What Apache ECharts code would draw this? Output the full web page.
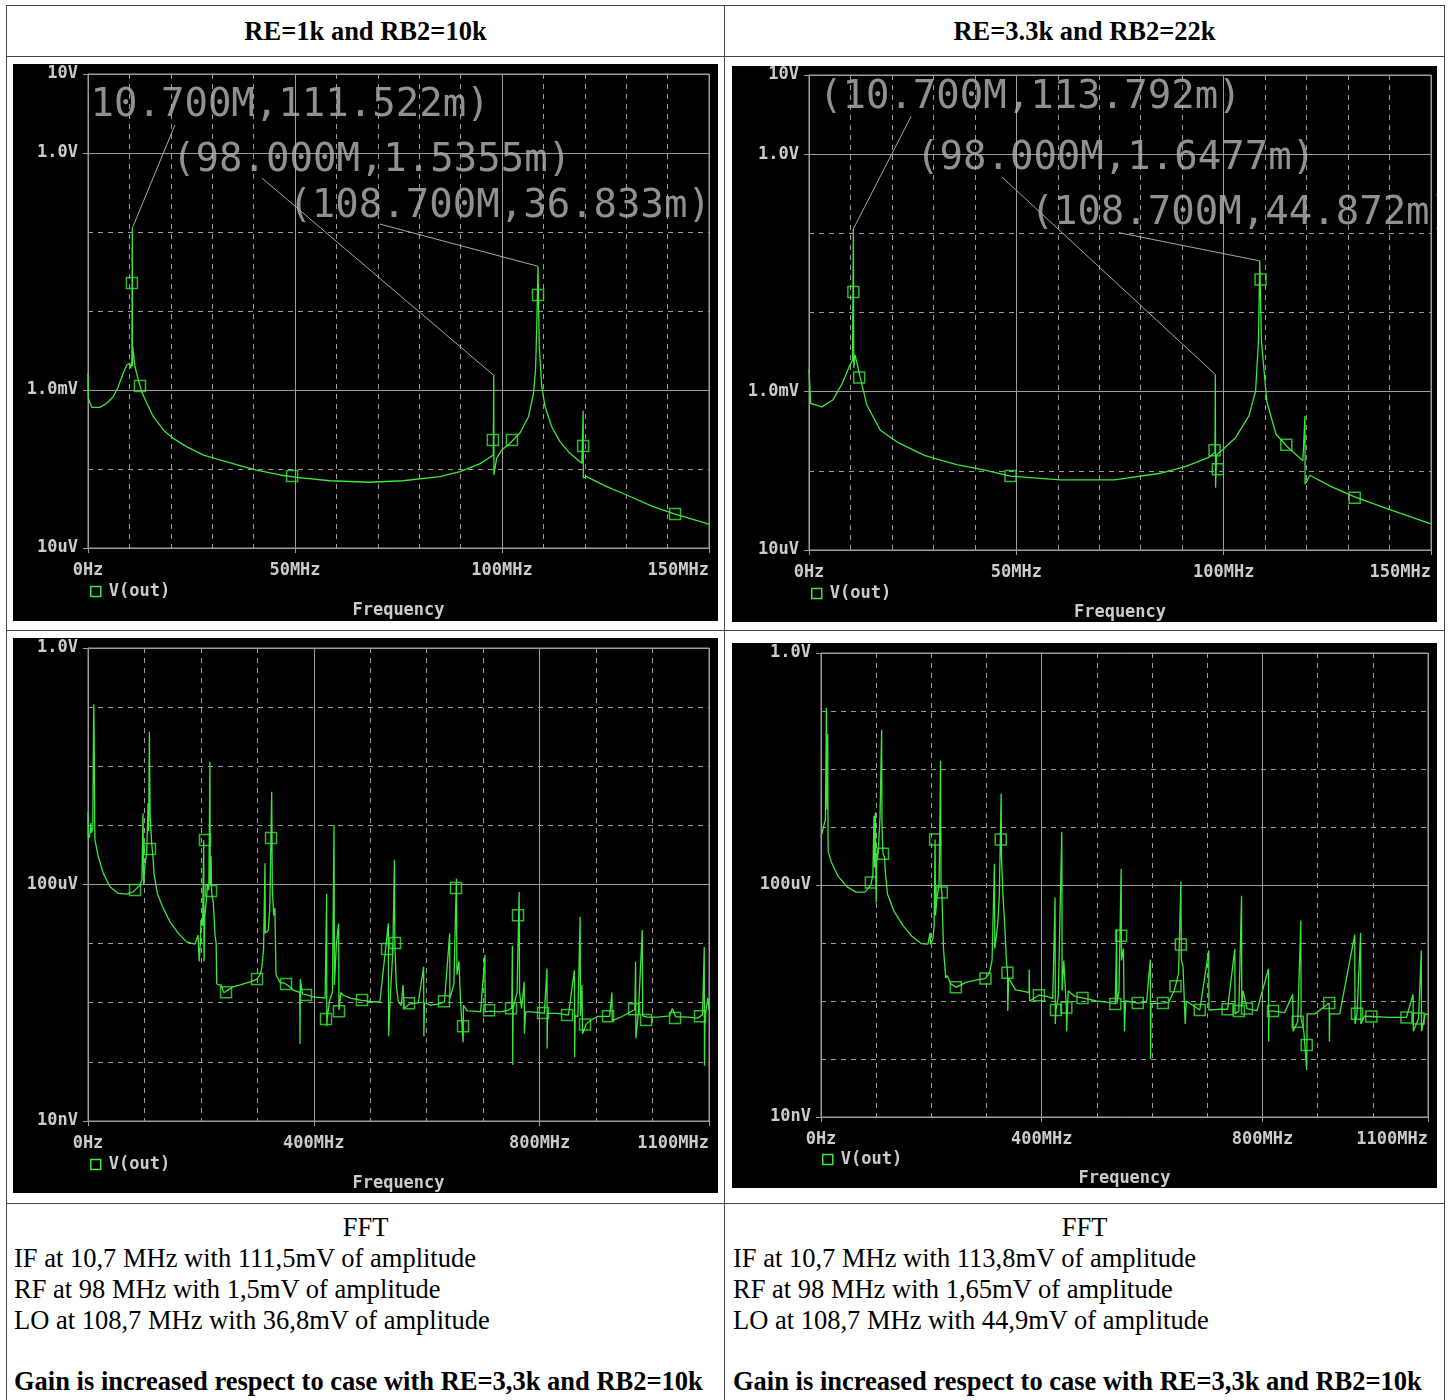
<!DOCTYPE html>
<html>
<head>
<meta charset="utf-8">
<script src="https://cdn.jsdelivr.net/npm/echarts@6/dist/echarts.min.js"></script>
<style>
  body { margin: 0; background: #fff; }
  #page { position: relative; width: 1451px; height: 1400px; overflow: hidden; font-family: 'Liberation Serif', serif; color: #000; }
  .hl { position: absolute; height: 1px; background: #444; }
  .vl { position: absolute; width: 1px; background: #444; }
  .head { position: absolute; top: 5px; height: 52px; line-height: 52px; text-align: center; font-weight: bold; font-size: 26.5px; }
  .plot { position: absolute; background: #000; }
  .ln { position: absolute; font-size: 26.5px; line-height: 31px; white-space: nowrap; }
  .ctr { text-align: center; }
</style>
</head>
<body>
<div id="page">
  <div class="hl" style="left:6px;width:1439px;top:5px"></div>
  <div class="hl" style="left:6px;width:1439px;top:56px"></div>
  <div class="hl" style="left:6px;width:1439px;top:630px"></div>
  <div class="hl" style="left:6px;width:1439px;top:1203px"></div>
  <div class="vl" style="left:6px;top:5px;height:1395px"></div>
  <div class="vl" style="left:724px;top:5px;height:1395px"></div>
  <div class="vl" style="left:1444px;top:5px;height:1395px"></div>

  <div class="head" style="left:6px;width:719px">RE=1k and RB2=10k</div>
  <div class="head" style="left:725px;width:719px">RE=3.3k and RB2=22k</div>

  <div id="tl" class="plot" style="left:13px;top:64px;width:705px;height:557px"></div>
  <div id="tr" class="plot" style="left:732px;top:66px;width:705px;height:556px"></div>
  <div id="bl" class="plot" style="left:13px;top:638px;width:705px;height:555px"></div>
  <div id="br" class="plot" style="left:732px;top:643px;width:705px;height:545px"></div>

  <div class="ln ctr" style="left:6px;width:719px;top:1212px">FFT</div>
  <div class="ln" style="left:14px;top:1243px">IF at 10,7 MHz with 111,5mV of amplitude</div>
  <div class="ln" style="left:14px;top:1274px">RF at 98 MHz with 1,5mV of amplitude</div>
  <div class="ln" style="left:14px;top:1305px">LO at 108,7 MHz with 36,8mV of amplitude</div>
  <div class="ln" style="left:14px;top:1366px;font-weight:bold">Gain is increased respect to case with RE=3,3k and RB2=10k</div>

  <div class="ln ctr" style="left:725px;width:719px;top:1212px">FFT</div>
  <div class="ln" style="left:733px;top:1243px">IF at 10,7 MHz with 113,8mV of amplitude</div>
  <div class="ln" style="left:733px;top:1274px">RF at 98 MHz with 1,65mV of amplitude</div>
  <div class="ln" style="left:733px;top:1305px">LO at 108,7 MHz with 44,9mV of amplitude</div>
  <div class="ln" style="left:733px;top:1366px;font-weight:bold">Gain is increased respect to case with RE=3,3k and RB2=10k</div>
</div>

<script>
// axis ticks and labels
const acXTicks = [0, 50, 100, 150]
const acXLabels = ['0Hz', '50MHz', '100MHz', '150MHz']
const acYTicks = [10, 1, 1e-3, 1e-5]
const acYLabels = ['10V', '1.0V', '1.0mV', '10uV']
const fftXTicks = [0, 400, 800, 1100]
const fftXLabels = ['0Hz', '400MHz', '800MHz', '1100MHz']
const fftYTicks = [1, 1e-4, 1e-8]
const fftYLabels = ['1.0V', '100uV', '10nV']

// [MHz, V] - RE=1k, RB2=10k, frequency sweep
const tlTrace = [
  [0, 1.63e-3], [0.07, 0.785e-3], [0.9, 0.604e-3], [2.9, 0.604e-3], [4.5, 0.678e-3], [6.1, 0.822e-3],
  [7.3, 1.10e-3], [8.5, 1.63e-3], [9.35, 2.07e-3], [10.0, 2.18e-3], [10.3, 1.88e-3], [10.6, 2.3e-3],
  [10.7, 0.111522], [10.75, 2.0e-3], [10.8, 3.53e-3], [11.35, 1.97e-3], [12.15, 1.34e-3], [12.97, 0.953e-3],
  [14.2, 0.678e-3], [15.8, 0.459e-3], [18.2, 0.312e-3], [20.6, 0.244e-3], [23.8, 0.192e-3], [27.9, 0.150e-3],
  [31.9, 0.130e-3], [36.7, 0.110e-3], [40.7, 0.097e-3], [46.4, 0.084e-3], [50.4, 0.0785e-3], [58.5, 0.071e-3],
  [68, 0.068e-3], [76, 0.071e-3], [85, 0.080e-3], [89.9, 0.0925e-3], [94.7, 0.117e-3], [97.1, 0.141e-3],
  [97.9, 0.15e-3], [98.0, 1.5355e-3], [98.05, 0.084e-3], [98.7, 0.136e-3], [99.9, 0.174e-3], [101.5, 0.201e-3],
  [104.3, 0.283e-3], [106.4, 0.459e-3], [107.6, 0.908e-3], [108.1, 1.79e-3], [108.4, 6.3e-3], [108.7, 0.036833],
  [109.0, 3.5e-3], [109.6, 1.1e-3], [110.4, 0.617e-3], [112.0, 0.343e-3], [114.0, 0.222e-3], [116.4, 0.158e-3],
  [119.3, 0.118e-3], [119.6, 0.547e-3], [119.65, 0.0769e-3], [120.4, 0.080e-3], [125.3, 0.0597e-3],
  [130.1, 0.0469e-3], [136.5, 0.0334e-3], [141.8, 0.0269e-3], [150, 0.0201e-3]
]
const tlMarkers = [
  [10.6, 22.6e-3], [12.56, 1.12e-3], [49.3, 0.0815e-3], [97.8, 0.233e-3], [102.4, 0.233e-3],
  [108.7, 15.96e-3], [119.6, 0.195e-3], [141.8, 0.0269e-3]
]
const tlLeaders = [
  [[10.7, 0.111522], [21.0, 2.26]],
  [[98.0, 1.5355e-3], [42.0, 0.483]],
  [[108.7, 0.036833], [70.5, 0.126]]
]
const tlNotes = [
  [0.6, 3.93, '10.700M,111.522m)'],
  [20.3, 0.79, '(98.000M,1.5355m)'],
  [48.4, 0.21, '(108.700M,36.833m)']
]

// RE=3.3k, RB2=22k, frequency sweep
const trTrace = [
  [0, 1.92e-3], [0.4, 0.711e-3], [3.1, 0.643e-3], [5.8, 0.792e-3], [8.0, 1.27e-3], [9.8, 2.13e-3],
  [10.5, 2.5e-3], [10.7, 0.113792], [10.8, 2.0e-3], [11.1, 2.92e-3], [12.3, 1.56e-3], [13.96, 0.678e-3],
  [17.2, 0.325e-3], [21.6, 0.225e-3], [28.0, 0.156e-3], [35.6, 0.120e-3], [42.1, 0.1026e-3], [48.6, 0.0859e-3],
  [60.6, 0.0767e-3], [73.6, 0.0767e-3], [84.4, 0.0925e-3], [90.9, 0.114e-3], [96.4, 0.148e-3], [97.9, 0.17e-3],
  [98.0, 1.6477e-3], [98.05, 0.061e-3], [98.3, 0.16e-3], [99.6, 0.182e-3], [102.9, 0.264e-3], [106.1, 0.494e-3],
  [107.7, 1.02e-3], [108.4, 4.43e-3], [108.7, 0.044872], [109.1, 4.4e-3], [110.4, 0.752e-3], [112.6, 0.292e-3],
  [115.3, 0.203e-3], [119.1, 0.134e-3], [119.6, 0.494e-3], [119.65, 0.0676e-3], [120.8, 0.0879e-3],
  [125.7, 0.0641e-3], [131.6, 0.047e-3], [138.7, 0.0343e-3], [150, 0.0214e-3]
]
const trMarkers = [
  [10.7, 18.2e-3], [12.1, 1.51e-3], [48.6, 0.0859e-3], [97.8, 0.182e-3], [98.6, 0.105e-3],
  [108.9, 26.2e-3], [115.1, 0.214e-3], [131.6, 0.0457e-3]
]
const trLeaders = [
  [[10.7, 0.113792], [24.6, 2.99]],
  [[98.0, 1.6477e-3], [46.5, 0.516]],
  [[108.7, 0.044872], [74.7, 0.102]]
]
const trNotes = [
  [2.4, 5.12, '(10.700M,113.792m)'],
  [25.8, 0.87, '(98.000M,1.6477m)'],
  [53.4, 0.175, '(108.700M,44.872m)']
]

// FFT, RE=1k, RB2=10k
const blTrace = [
  [0, 1.7e-3], [0.5, 0.6e-3], [3, 0.65e-3], [5, 1.1e-3], [6, 0.75e-3], [8.5, 0.9e-3], [10.2, 0.1115],
  [11.0, 27e-3], [12.0, 0.9e-3], [12.4, 0.564e-3], [18.3, 0.294e-3], [27.2, 0.154e-3], [39, 0.0914e-3],
  [53.7, 0.0706e-3], [68.5, 0.0689e-3], [80, 0.075e-3], [92.1, 0.0977e-3], [95.5, 0.12e-3], [97.5, 1.6e-3],
  [98.5, 0.1e-3], [101, 0.215e-3], [104, 0.35e-3], [106.5, 2.36e-3], [107.5, 0.8e-3], [108.7, 38.4e-3],
  [110, 1.5e-3], [112.8, 0.495e-3], [115, 0.3e-3], [116.9, 0.154e-3], [122.8, 0.0706e-3], [133.4, 0.0394e-3],
  [145.3, 0.0234e-3], [160, 0.0149e-3], [174.8, 0.0107e-3], [189.5, 9.8e-6], [195, 14e-6], [197, 5e-6],
  [199, 10e-6], [200, 25e-6], [203, 20e-6], [205, 0.56e-3], [205.5, 5e-6], [207, 30e-6], [210, 60e-6],
  [212, 0.1e-3], [214, 0.08e-3], [216, 11.9e-3], [216.5, 0.1e-3], [218, 0.3e-3], [219, 0.07e-3],
  [222, 50e-6], [225, 14e-6], [227, 10e-6], [228, 2.1e-6], [232, 2.0e-6], [236, 2.0e-6], [240, 1.5e-6],
  [244, 1.53e-6], [250, 1.7e-6], [257, 1.86e-6], [270, 2.0e-6], [287, 2.26e-6], [298.8, 2.48e-6],
  [305, 3.0e-6], [307.7, 3.8e-6], [311, 8e-6], [313.5, 0.228e-3], [314, 15e-6], [319.5, 16.9e-6],
  [322, 40e-6], [325.4, 3.7e-3], [326.5, 80e-6], [329, 30e-6], [331, 40e-6], [333, 3e-6], [340, 2.2e-6],
  [349, 2.12e-6], [356, 1.9e-6], [363.7, 1.64e-6], [375, 1.5e-6], [375.6, 0.2e-6], [376, 2.5e-6],
  [380, 1.4e-6], [384.4, 1.38e-6], [399, 1.26e-6], [420, 1.2e-6], [422.8, 70e-6], [423, 0.4e-6],
  [424, 0.58e-6], [428, 1.1e-6], [433, 1.5e-6], [435.8, 1.01e-3], [436.5, 2e-6], [440, 10e-6], [444, 22e-6],
  [444.5, 0.75e-6], [448, 1.5e-6], [452, 1.34e-6], [465, 1.2e-6], [484.8, 1.1e-6], [500, 1.05e-6],
  [517, 1.03e-6], [532, 22e-6], [532.5, 0.27e-6], [535, 1e-6], [540, 8e-6], [542.8, 0.262e-3], [543.5, 10e-6],
  [546, 2e-6], [549.9, 1.03e-6], [555, 0.9e-6], [558, 2e-6], [560, 0.8e-6], [569, 0.946e-6], [585, 1e-6],
  [594.5, 4.05e-6], [595, 0.27e-6], [596, 1.0e-6], [606.4, 0.91e-6], [620, 0.95e-6], [631.4, 1.03e-6],
  [640.7, 14.9e-6], [641, 1.2e-6], [648, 2e-6], [652.6, 0.126e-3], [653.5, 3e-6], [657, 5e-6], [660, 1e-6],
  [664.5, 0.215e-6], [665, 0.9e-6], [671.7, 0.73e-6], [685, 0.72e-6], [695.5, 0.70e-6], [703.1, 6.4e-6],
  [703.5, 0.7e-6], [713.2, 0.72e-6], [730, 0.7e-6], [745, 0.75e-6], [750.6, 0.82e-6], [751.8, 9.2e-6],
  [752.3, 0.089e-6], [753, 0.8e-6], [760, 1.5e-6], [763.7, 74.5e-6], [764.5, 1.5e-6], [768, 0.8e-6],
  [772.7, 2.26e-6], [773, 0.3e-6], [775, 0.7e-6], [784.6, 0.70e-6], [800, 0.68e-6], [808.3, 0.66e-6],
  [813, 3.8e-6], [813.3, 0.169e-6], [814, 0.66e-6], [832, 0.66e-6], [851, 0.62e-6], [861.6, 3.56e-6],
  [862, 0.12e-6], [863, 0.6e-6], [867.7, 0.58e-6], [871.8, 28.4e-6], [872.3, 0.6e-6], [875, 2e-6],
  [876, 0.3e-6], [882.5, 0.435e-6], [890, 0.5e-6], [903.3, 0.59e-6], [924, 0.59e-6], [928, 1.5e-6],
  [928.5, 0.5e-6], [945, 0.58e-6], [968.7, 0.77e-6], [970, 5e-6], [970.5, 0.25e-6], [975, 0.7e-6],
  [981.8, 16.9e-6], [982.5, 0.6e-6], [990.6, 0.57e-6], [1010, 0.57e-6], [1030, 0.6e-6], [1035, 0.8e-6],
  [1041, 0.58e-6], [1063.6, 0.57e-6], [1080, 0.55e-6], [1088.6, 0.63e-6], [1091.6, 8.8e-6], [1092, 0.086e-6],
  [1093, 0.6e-6], [1098, 1.2e-6], [1100, 0.76e-6]
]
const blMarkers = [
  [83.3, 80.4e-6], [109.8, 0.397e-3], [207.3, 0.564e-3], [217.9, 77.3e-6], [244.5, 1.51e-6], [299.4, 2.51e-6],
  [324.2, 0.61e-3], [350.8, 2.07e-6], [386.2, 1.35e-6], [421.6, 0.53e-6], [444.6, 0.72e-6], [485.4, 1.11e-6],
  [529.7, 8.1e-6], [543.8, 10.2e-6], [568.6, 0.98e-6], [630.6, 1.06e-6], [651.9, 86.9e-6], [664.3, 0.40e-6],
  [710.4, 0.75e-6], [749.3, 0.81e-6], [761.7, 30.3e-6], [806, 0.67e-6], [848.5, 0.62e-6], [880.4, 0.43e-6],
  [921.2, 0.59e-6], [967.2, 0.78e-6], [988.5, 0.51e-6], [1039.9, 0.55e-6], [1084.1, 0.59e-6]
]

// FFT, RE=3.3k, RB2=22k
const brTrace = [
  [0, 0.67e-3], [2.4, 0.83e-3], [5, 0.8e-3], [8.1, 1.36e-3], [9.8, 0.1138], [11, 2e-3], [12.2, 40e-3],
  [12.6, 1.2e-3], [13, 0.38e-3], [18.7, 0.25e-3], [30.9, 0.142e-3], [47.2, 93e-6], [63.5, 75.5e-6],
  [79.8, 75.5e-6], [90.4, 0.1e-3], [94, 0.15e-3], [96, 1.56e-3], [97, 0.2e-3], [98.5, 1.8e-3], [99.5, 0.15e-3],
  [100, 0.05e-3], [101, 0.25e-3], [104, 0.4e-3], [107, 1.5e-3], [109.9, 47.5e-3], [110.5, 1e-3],
  [112.4, 0.346e-3], [115, 0.3e-3], [117, 0.15e-3], [120.5, 70e-6], [132.7, 34.7e-6], [149, 19.8e-6],
  [165.3, 12.9e-6], [181.6, 9.8e-6], [193.8, 9.6e-6], [197.8, 15e-6], [198.5, 9.5e-6], [203, 12e-6],
  [205, 20e-6], [206.8, 0.61e-3], [207.5, 30e-6], [210, 60e-6], [214, 0.1e-3], [216.6, 13.9e-3],
  [217.5, 0.1e-3], [219, 74e-6], [222, 8e-6], [226, 2.5e-6], [228.8, 2.74e-6], [235, 2.0e-6], [244.3, 1.72e-6],
  [263, 2.1e-6], [280, 2.3e-6], [298, 2.45e-6], [305, 3e-6], [310, 5e-6], [314.3, 0.233e-3], [315, 8e-6],
  [320, 20e-6], [323, 60e-6], [326.5, 3.75e-3], [327, 0.3e-3], [330, 60e-6], [333, 20e-6], [336, 5e-6],
  [337.9, 3.07e-6], [338.5, 0.67e-6], [340, 2.5e-6], [352.5, 1.56e-6], [370, 1.45e-6], [377, 1.4e-6],
  [377.3, 3.5e-6], [378, 1e-6], [394.9, 1.26e-6], [409.5, 1.2e-6], [420, 1.1e-6], [424.2, 61e-6],
  [424.6, 0.4e-6], [425.8, 0.7e-6], [430, 1.2e-6], [436.4, 0.83e-3], [437, 1.5e-6], [440, 5e-6],
  [444.6, 0.77e-6], [445, 0.3e-6], [448, 1.5e-6], [460, 1.2e-6], [473.9, 1.13e-6], [499, 1.0e-6],
  [520, 0.95e-6], [533.3, 0.89e-6], [535.8, 17e-6], [536.2, 0.9e-6], [540, 1.5e-6], [543.9, 0.189e-3],
  [544.5, 5e-6], [548, 8e-6], [550, 0.3e-6], [552, 1e-6], [574, 0.92e-6], [590, 0.95e-6], [596.8, 5.2e-6],
  [597.2, 0.1e-6], [598, 0.9e-6], [619.6, 0.92e-6], [630, 0.95e-6], [640, 1.5e-6], [642.4, 1.8e-6],
  [648, 3e-6], [652.2, 0.115e-3], [653, 5e-6], [656, 4e-6], [660, 0.4e-6], [662, 1e-6], [686.4, 0.7e-6],
  [702.7, 7.4e-6], [703, 0.7e-6], [720, 0.72e-6], [736.8, 0.72e-6], [749.9, 7.9e-6], [750.3, 0.6e-6],
  [757.2, 0.67e-6], [762.1, 65.5e-6], [762.5, 0.8e-6], [765, 1.5e-6], [771.9, 0.74e-6], [790, 0.68e-6],
  [811, 3.6e-6], [811.3, 0.2e-6], [812, 0.67e-6], [819.1, 0.67e-6], [840, 0.63e-6], [855, 1.3e-6],
  [855.5, 0.3e-6], [863.9, 0.44e-6], [869.6, 24.4e-6], [870, 0.5e-6], [875, 0.3e-6], [880.2, 0.065e-6],
  [881, 0.6e-6], [895, 0.6e-6], [920.9, 0.92e-6], [921.3, 0.2e-6], [922, 0.6e-6], [940, 0.6e-6],
  [967.3, 13.9e-6], [967.7, 0.4e-6], [971.3, 0.6e-6], [977.9, 14.9e-6], [978.3, 0.4e-6], [985, 0.55e-6],
  [997.4, 0.54e-6], [1030, 0.52e-6], [1060.9, 0.52e-6], [1073, 1.3e-6], [1073.4, 0.3e-6], [1082.9, 0.50e-6],
  [1087.8, 7.4e-6], [1088.2, 0.3e-6], [1095, 0.6e-6], [1100, 0.58e-6]
]
const brMarkers = [
  [90.4, 0.11e-3], [112.4, 0.346e-3], [206.8, 0.61e-3], [219, 74.3e-6], [244.3, 1.72e-6], [298, 2.45e-6],
  [325.7, 0.61e-3], [337.9, 3.07e-6], [394.9, 1.26e-6], [425.8, 0.70e-6], [444.6, 0.77e-6], [473.9, 1.13e-6],
  [533.3, 0.89e-6], [543.9, 13.3e-6], [574, 0.92e-6], [619.6, 0.92e-6], [642.4, 1.8e-6], [652.2, 9.4e-6],
  [686.4, 0.7e-6], [736.8, 0.72e-6], [757.2, 0.67e-6], [771.9, 0.74e-6], [819.1, 0.67e-6], [863.9, 0.44e-6],
  [880.2, 0.175e-6], [920.9, 0.92e-6], [971.3, 0.6e-6], [997.4, 0.54e-6], [1060.9, 0.52e-6], [1082.9, 0.50e-6]
]

const green = '#3ce63c'
const gridGray = '#9c9c9c'
const textGray = '#cccccc'
const mono = 'DejaVu Sans Mono'

function pickLabel(v, ticks, labels, isLog) {
  for (let i = 0; i < ticks.length; i++) {
    const d = isLog ? Math.abs(Math.log10(v) - Math.log10(ticks[i])) : Math.abs(v - ticks[i])
    if (d < 1e-6) {
      return labels[i]
    }
  }
  return ''
}

function buildOption(c) {
  const tickFont = { color: textGray, fontSize: 17, fontWeight: 'bold', fontFamily: mono }
  const series = [{
    name: 'V(out)',
    type: 'line',
    data: c.trace,
    symbol: 'none',
    lineStyle: { color: green, width: 1.3 },
    itemStyle: { color: green },
    z: 3
  }, {
    name: 'markers',
    type: 'scatter',
    data: c.markers,
    symbol: 'rect',
    symbolSize: 11,
    itemStyle: { color: 'rgba(0,0,0,0)', borderColor: green, borderWidth: 1.5 },
    z: 4
  }]
  if (c.leaders) {
    series.push({
      type: 'lines',
      coordinateSystem: 'cartesian2d',
      data: c.leaders.map(l => ({ coords: l })),
      lineStyle: { color: '#a8a8a8', width: 1, opacity: 1 },
      silent: true,
      z: 2
    })
    series.push({
      type: 'scatter',
      data: c.notes.map(n => ({ value: [n[0], n[1]], name: n[2] })),
      symbolSize: 0,
      silent: true,
      label: {
        show: true,
        position: 'right',
        distance: 0,
        formatter: '{b}',
        color: '#b4b4b4',
        fontSize: 39,
        fontFamily: mono
      },
      z: 5
    })
  }
  return {
    backgroundColor: '#000',
    animation: false,
    grid: {
      left: c.grid[0], top: c.grid[1], width: c.grid[2], height: c.grid[3],
      show: true, borderColor: gridGray, borderWidth: 1, backgroundColor: '#000',
      containLabel: false, outerBoundsMode: 'none'
    },
    legend: {
      data: [{ name: 'V(out)', icon: 'rect', itemStyle: { color: 'rgba(0,0,0,0)', borderColor: green, borderWidth: 1.5 } }],
      left: c.legend[0],
      top: c.legend[1],
      padding: 0,
      itemWidth: 10,
      itemHeight: 10,
      selectedMode: false,
      textStyle: Object.assign({ padding: [0, 0, 0, 3] }, tickFont)
    },
    xAxis: [{
      type: 'value', min: c.xMin, max: c.xMax, interval: c.xStep, position: 'bottom',
      axisLine: { show: false }, axisTick: { show: false }, axisLabel: { show: false },
      splitLine: { lineStyle: { color: gridGray, type: [5, 5], width: 1 } }
    }, {
      type: 'value', min: c.xMin, max: c.xMax, position: 'bottom',
      axisLine: { lineStyle: { color: gridGray } },
      axisTick: { customValues: c.xTicks, length: 5, lineStyle: { color: gridGray } },
      axisLabel: Object.assign({
        customValues: c.xTicks, margin: 14, alignMaxLabel: 'right',
        formatter: v => pickLabel(v, c.xTicks, c.xLabels, false)
      }, tickFont),
      splitLine: { show: true, lineStyle: { color: gridGray, width: 1 } },
      name: 'Frequency', nameLocation: 'middle', nameGap: c.nameGap,
      nameTextStyle: tickFont
    }],
    yAxis: [{
      type: 'log', min: c.yMin, max: c.yMax, splitNumber: c.decades, position: 'left',
      axisLine: { show: false }, axisTick: { show: false }, axisLabel: { show: false },
      splitLine: { lineStyle: { color: gridGray, type: [5, 5], width: 1 } }
    }, {
      type: 'log', min: c.yMin, max: c.yMax, position: 'left',
      axisLine: { show: true, lineStyle: { color: gridGray } },
      axisTick: { show: true, customValues: c.yTicks, length: 5, lineStyle: { color: gridGray } },
      axisLabel: Object.assign({
        customValues: c.yTicks, margin: 10, padding: [5, 0, 0, 0],
        formatter: v => pickLabel(v, c.yTicks, c.yLabels, true)
      }, tickFont),
      splitLine: { show: true, lineStyle: { color: gridGray, width: 1 } }
    }],
    series: series
  }
}

const acBase = { xMin: 0, xMax: 150, xStep: 10, xTicks: acXTicks, xLabels: acXLabels,
  yMin: 1e-5, yMax: 10, decades: 6, yTicks: acYTicks, yLabels: acYLabels }
const fftBase = { xMin: 0, xMax: 1100, xStep: 100, xTicks: fftXTicks, xLabels: fftXLabels,
  yMin: 1e-8, yMax: 1, decades: 8, yTicks: fftYTicks, yLabels: fftYLabels }

const panels = [
  ['tl', Object.assign({}, acBase, { grid: [75, 10, 621, 474], legend: [77, 519], nameGap: 54,
    trace: tlTrace, markers: tlMarkers, leaders: tlLeaders, notes: tlNotes })],
  ['tr', Object.assign({}, acBase, { grid: [77, 9, 622, 475], legend: [79, 519], nameGap: 54,
    trace: trTrace, markers: trMarkers, leaders: trLeaders, notes: trNotes })],
  ['bl', Object.assign({}, fftBase, { grid: [75, 10, 621, 473], legend: [77, 518], nameGap: 54,
    trace: blTrace, markers: blMarkers })],
  ['br', Object.assign({}, fftBase, { grid: [89, 10, 607, 464], legend: [90, 508], nameGap: 53,
    trace: brTrace, markers: brMarkers })]
]

panels.forEach(p => {
  const chart = echarts.init(document.getElementById(p[0]))
  chart.setOption(buildOption(p[1]))
})
</script>
</body>
</html>
